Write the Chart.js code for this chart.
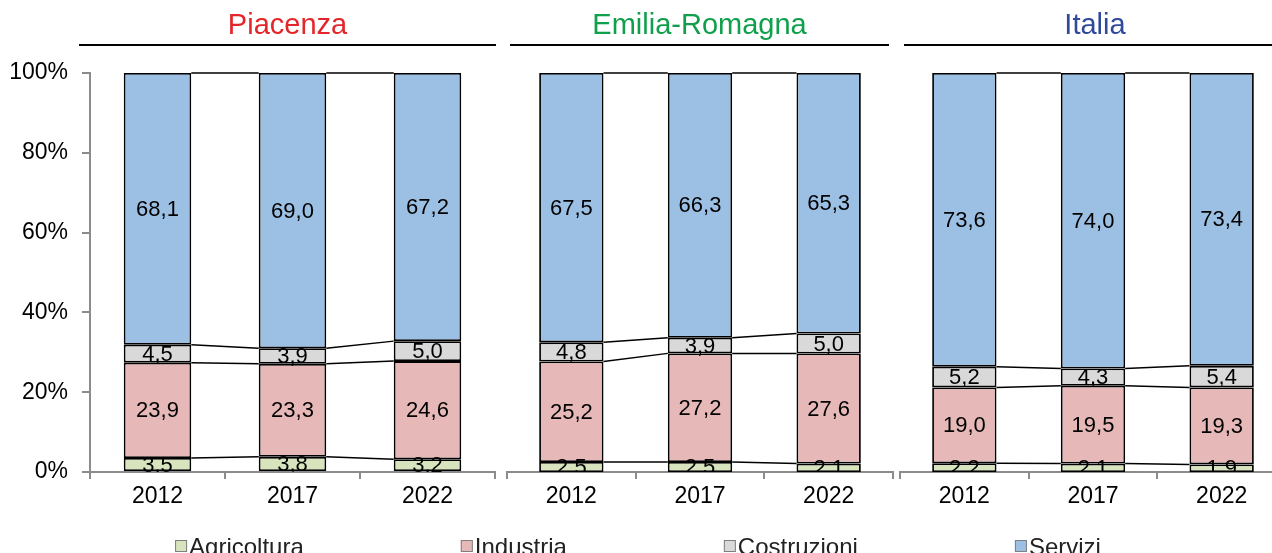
<!DOCTYPE html>
<html>
<head>
<meta charset="utf-8">
<script src="https://cdn.jsdelivr.net/npm/chart.js@4.4.0/dist/chart.umd.min.js"></script>
<style>
    html, body { margin: 0; padding: 0; background: #fff; }
    #wrap { position: relative; width: 1272px; height: 553px; overflow: hidden; }
    canvas { position: absolute; top: 0; }
</style>
</head>
<body>
<div id="wrap">
    <canvas id="chart_pc" width="1272" height="553" style="left:0px"></canvas>
    <canvas id="chart_er" width="400" height="553" style="left:500px"></canvas>
    <canvas id="chart_it" width="400" height="553" style="left:895px"></canvas>
</div>
<script>
const years = ['2012', '2017', '2022'];
const seriesNames = ['Agricoltura', 'Industria', 'Costruzioni', 'Servizi'];

// Piacenza
const agricolturaPC = [3.5, 3.8, 3.2];
const industriaPC = [23.9, 23.3, 24.6];
const costruzioniPC = [4.5, 3.9, 5.0];
const serviziPC = [68.1, 69.0, 67.2];
// Emilia-Romagna
const agricolturaER = [2.5, 2.5, 2.1];
const industriaER = [25.2, 27.2, 27.6];
const costruzioniER = [4.8, 3.9, 5.0];
const serviziER = [67.5, 66.3, 65.3];
// Italia
const agricolturaIT = [2.2, 2.1, 1.9];
const industriaIT = [19.0, 19.5, 19.3];
const costruzioniIT = [5.2, 4.3, 5.4];
const serviziIT = [73.6, 74.0, 73.4];

const yTicks = [0, 20, 40, 60, 80, 100];

const seriesColors = ['#d7e4bd', '#e6b9b8', '#d9d9d9', '#9cc0e4'];
const FONT = '"Liberation Sans", Arial, sans-serif';
const AXIS_GREY = '#8c8c8c';

// panel title with the line under it
const panelTitle = {
    id: 'panelTitle',
    afterDraw(chart, args, opts) {
        if (!opts.text) return;
        const ctx = chart.ctx, area = chart.chartArea;
        const x0 = area.left + opts.lineFrom, x1 = area.right + opts.lineTo;
        ctx.save();
        ctx.strokeStyle = '#000';
        ctx.lineWidth = 2;
        ctx.beginPath();
        ctx.moveTo(x0, 45);
        ctx.lineTo(x1, 45);
        ctx.stroke();
        ctx.font = '29px ' + FONT;
        ctx.fillStyle = opts.color;
        ctx.textAlign = 'center';
        ctx.textBaseline = 'middle';
        ctx.fillText(opts.text, (x0 + x1) / 2, 26);
        ctx.restore();
    }
};

// lines joining the tops of each series between neighbouring bars
const seriesLines = {
    id: 'seriesLines',
    afterDatasetsDraw(chart) {
        const ctx = chart.ctx;
        ctx.save();
        ctx.strokeStyle = '#000';
        ctx.lineWidth = 1.5;
        chart.data.datasets.forEach((ds, d) => {
            const bars = chart.getDatasetMeta(d).data;
            for (let i = 0; i < bars.length - 1; i++) {
                const a = bars[i], b = bars[i + 1];
                ctx.beginPath();
                ctx.moveTo(a.x + a.width / 2, a.y);
                ctx.lineTo(b.x - b.width / 2, b.y);
                ctx.stroke();
            }
        });
        ctx.restore();
    }
};

// values written in the middle of each segment
const segmentLabels = {
    id: 'segmentLabels',
    afterDatasetsDraw(chart) {
        const ctx = chart.ctx, area = chart.chartArea;
        ctx.save();
        ctx.beginPath();
        ctx.rect(area.left, area.top, area.right - area.left, area.bottom - area.top);
        ctx.clip();
        ctx.font = '22px ' + FONT;
        ctx.fillStyle = '#000';
        ctx.textAlign = 'center';
        ctx.textBaseline = 'middle';
        chart.data.datasets.forEach((ds, d) => {
            chart.getDatasetMeta(d).data.forEach((bar, i) => {
                const txt = ds.shown[i].toFixed(1).replace('.', ',');
                ctx.fillText(txt, bar.x, (bar.y + bar.base) / 2 + 1);
            });
        });
        ctx.restore();
    }
};

// one legend row for the three panels
const bottomLegend = {
    id: 'bottomLegend',
    afterDraw(chart, args, opts) {
        if (!opts.show) return;
        const ctx = chart.ctx;
        const box = 12, gap = 2, space = 157;
        ctx.save();
        ctx.font = '24px ' + FONT;
        const items = chart.data.datasets.map(ds => ({
            label: ds.label,
            color: ds.backgroundColor,
            w: box + gap + ctx.measureText(ds.label).width
        }));
        const total = items.reduce((s, it) => s + it.w, 0) + space * (items.length - 1);
        let x = opts.centerX - total / 2;
        items.forEach(it => {
            ctx.fillStyle = it.color;
            ctx.fillRect(x, opts.y - box / 2, box, box);
            ctx.strokeStyle = '#7f7f7f';
            ctx.lineWidth = 1;
            ctx.strokeRect(x + 0.5, opts.y - box / 2 + 0.5, box - 1, box - 1);
            ctx.fillStyle = '#222';
            ctx.textAlign = 'left';
            ctx.textBaseline = 'middle';
            ctx.fillText(it.label, x + box + gap, opts.y + 2);
            x += it.w + space;
        });
        ctx.restore();
    }
};

function buildDatasets(series) {
    const totals = years.map((y, i) => series.reduce((s, arr) => s + arr[i], 0));
    return series.map((arr, k) => ({
        label: seriesNames[k],
        data: arr.map((v, i) => v / totals[i] * 100),
        shown: arr,
        backgroundColor: seriesColors[k],
        borderColor: '#000',
        borderWidth: 1.8,
        borderSkipped: false,
        barPercentage: 0.5,
        categoryPercentage: 1.0
    }));
}

function makePanel(canvasId, series, title, padding, showY) {
    const ctx = document.getElementById(canvasId).getContext('2d');
    return new Chart(ctx, {
        type: 'bar',
        data: { labels: years, datasets: buildDatasets(series) },
        options: {
            responsive: false,
            animation: false,
            devicePixelRatio: 1,
            layout: { padding: padding },
            plugins: {
                legend: { display: false },
                tooltip: { enabled: false },
                panelTitle: title,
                bottomLegend: { show: showY, centerX: 638, y: 546 }
            },
            scales: {
                x: {
                    stacked: true,
                    afterFit: (scale) => { scale.height = 81; },
                    grid: {
                        offset: true,
                        drawOnChartArea: false,
                        drawTicks: true,
                        tickLength: 7,
                        color: AXIS_GREY,
                        lineWidth: 2
                    },
                    border: { display: true, color: AXIS_GREY, width: 2 },
                    ticks: {
                        color: '#000',
                        font: { family: FONT, size: 23 },
                        padding: 4,
                        maxRotation: 0
                    }
                },
                y: {
                    stacked: true,
                    display: showY,
                    min: 0,
                    max: 100,
                    afterFit: (scale) => { scale.width = showY ? 90 : 0; },
                    afterBuildTicks: (scale) => { scale.ticks = yTicks.map(v => ({ value: v })); },
                    grid: {
                        drawOnChartArea: false,
                        drawTicks: true,
                        tickLength: 8,
                        color: AXIS_GREY,
                        lineWidth: 2
                    },
                    border: { display: true, color: AXIS_GREY, width: 2 },
                    ticks: {
                        color: '#000',
                        font: { family: FONT, size: 23 },
                        padding: 14,
                        callback: (v) => v + '%'
                    }
                }
            }
        },
        plugins: [panelTitle, seriesLines, segmentLabels, bottomLegend]
    });
}

const pc_chart = makePanel('chart_pc', [agricolturaPC, industriaPC, costruzioniPC, serviziPC],
    { text: 'Piacenza', color: '#e3262b', lineFrom: -11, lineTo: 1 },
    { top: 73, left: 0, right: 777, bottom: 0 }, true);

const er_chart = makePanel('chart_er', [agricolturaER, industriaER, costruzioniER, serviziER],
    { text: 'Emilia-Romagna', color: '#10a04b', lineFrom: 3, lineTo: -4 },
    { top: 73, left: 7, right: 7, bottom: 0 }, false);

const it_chart = makePanel('chart_it', [agricolturaIT, industriaIT, costruzioniIT, serviziIT],
    { text: 'Italia', color: '#2f4a9b', lineFrom: 4, lineTo: 0 },
    { top: 73, left: 5, right: 9, bottom: 0 }, false);
</script>
</body>
</html>
